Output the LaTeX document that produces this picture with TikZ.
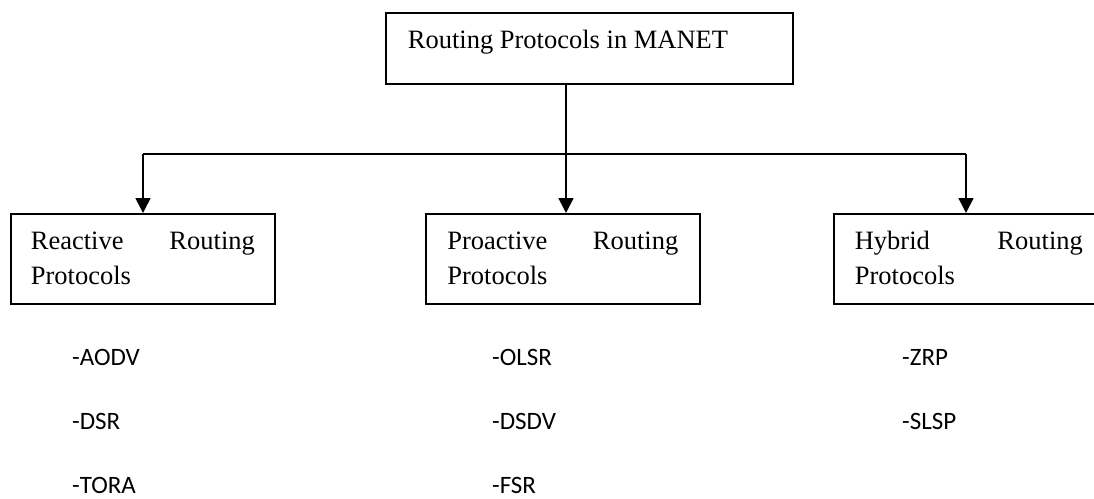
\documentclass[tikz,border=0pt]{standalone}
\usepackage{fontspec}
\setmainfont{Liberation Serif}
\newfontfamily\listfont{Carlito}
\usetikzlibrary{arrows.meta}

\begin{document}
\begin{tikzpicture}[x=1pt,y=-1pt,
  catbox/.style={draw, line width=1.7pt, inner ysep=0pt, inner xsep=#1,
    anchor=north west, font=\fontsize{26.5}{34.5}\selectfont},
  link/.style={line width=1.6pt},
  arr/.style={link, -{Triangle[width=15pt,length=15pt]}},
  item/.style={anchor=base west, inner sep=0pt,
    font=\listfont\fontsize{25}{30}\selectfont}]

\useasboundingbox (0,0) rectangle (1094,498);
\clip (0,0) rectangle (1094,498);

% root box
\node[catbox=22pt] (root) at (385,12)
  {\parbox[c][71pt][t]{363pt}{\rule{0pt}{36pt}Routing Protocols in MANET}};

% category boxes
\node[catbox=20pt] (reactive) at (10,213)
  {\parbox[c][90pt][t]{224pt}{\rule{0pt}{36pt}Reactive\hfill Routing\\Protocols}};
\node[catbox=21.5pt] (proactive) at (425,213)
  {\parbox[c][90pt][t]{231pt}{\rule{0pt}{36pt}Proactive\hfill Routing\\Protocols}};
\node[catbox=21pt] (hybrid) at (833,213)
  {\parbox[c][90pt][t]{228pt}{\rule{0pt}{36pt}Hybrid\hfill Routing\\Protocols}};

% branching connectors
\coordinate (j) at (566,154);
\coordinate (dl) at (143,154);
\coordinate (dr) at (966,154);
\draw[link] (root.south -| j) -- (j);
\draw[link] (dl) -- (dr);
\draw[arr] (dl) -- (dl |- reactive.north);
\draw[arr] (j) -- (j |- proactive.north);
\draw[arr] (dr) -- (dr |- hybrid.north);

% protocol lists
\node[item] (aodv) at (72,365) {-AODV};
\node[item] (dsr)  at (72,429) {-DSR};
\node[item] (tora) at (72,493) {-TORA};
\node[item] (olsr) at (492,365) {-OLSR};
\node[item] (dsdv) at (492,429) {-DSDV};
\node[item] (fsr)  at (492,493) {-FSR};
\node[item] (zrp)  at (902,365) {-ZRP};
\node[item] (slsp) at (902,429) {-SLSP};
\end{tikzpicture}
\end{document}
